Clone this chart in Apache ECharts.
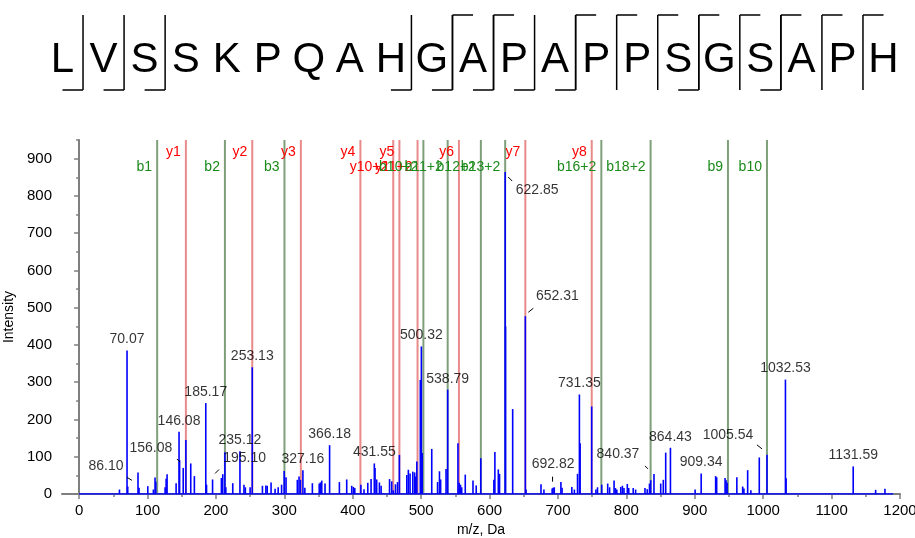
<!DOCTYPE html>
<html><head><meta charset="utf-8">
<script src="https://cdn.jsdelivr.net/npm/echarts@6/dist/echarts.min.js"></script>
<style>html,body{margin:0;padding:0;background:#fff}#c{width:915px;height:538px}</style>
</head><body><div id="c"></div>
<script>
// ---------- data ----------
const residues = ['L','V','S','S','K','P','Q','A','H','G','A','P','A','P','P','S','G','S','A','P','H'];
const bBreaks = [1,2,3,9,10,11,12,13,16,18];      // b-ion numbers shown in the sequence
const yBreaks = [1,2,3,4,5,6,7,8,10,11];          // y-ion numbers shown in the sequence

const ionNames = ['b1','y1','b2','y2','b3','y3','y4','y10+2','y5','y11+2','b10+2','b11+2','y6','b12+2','b13+2','y7','y8','b16+2','b18+2','b9','b10'];
const ionMz    = [114.09,156.08,213.16,253.13,300.19,324.17,411.20,459.23,468.22,494.75,503.27,538.79,555.25,587.32,622.84,652.31,749.36,763.41,835.43,948.52,1005.54];

const peakMz = [59.0,70.07,71.1,86.10,87.6,100.4,108.6,111.0,112.1,125.7,127.2,128.6,141.8,146.08,146.9,152.2,156.08,163.2,168.5,185.17,186.3,195.10,208.0,210.0,213.1,214.5,224.6,235.12,241.0,243.0,250.0,253.13,268.0,273.0,275.0,280.6,286.5,291.0,296.0,299.8,302.5,319.0,321.5,323.5,327.16,330.0,341.0,351.0,352.6,354.7,359.5,366.18,380.5,391.2,398.5,401.0,403.0,411.9,416.5,422.0,426.8,431.55,432.6,435.0,439.0,441.5,453.8,457.0,459.3,462.5,465.5,468.2,479.0,481.3,483.8,487.8,490.5,492.2,493.7,498.8,500.32,501.6,515.5,524.0,526.8,528.5,536.4,538.79,553.8,555.6,557.5,559.3,564.5,575.8,580.5,587.2,606.3,607.8,612.8,614.6,622.85,623.4,633.8,652.31,653.3,675.2,679.5,691.5,692.82,694.6,704.3,706.0,720.3,724.0,728.6,731.35,732.4,749.3,755.5,757.8,764.0,772.7,775.5,782.0,784.0,786.0,791.8,794.2,796.5,801.4,803.5,810.0,813.5,827.2,830.5,833.8,835.6,840.37,850.2,854.0,857.5,864.43,900.5,909.34,930.5,932.0,944.3,945.8,947.3,961.5,970.0,971.8,977.3,982.0,994.3,1005.54,1032.53,1033.5,1131.59,1164.4,1178.0];
const peakIntensity = [12,385,20,58,17,21,12,44,33,18,41,53,29,167,91,70,145,82,48,244,25,39,43,53,112,18,29,115,25,18,18,340,22,23,22,31,14,18,25,62,45,38,47,38,64,17,29,28,31,36,28,131,32,39,22,19,16,25,13,30,40,82,70,39,31,22,40,34,10,26,32,105,51,65,55,60,58,47,87,306,396,110,121,32,61,39,67,280,136,30,25,18,52,36,23,96,38,113,66,54,864,450,228,477,12,26,12,15,17,18,32,17,19,12,54,267,136,235,12,18,25,28,18,36,16,12,19,22,16,27,16,16,12,16,13,28,37,54,28,38,111,124,12,55,48,45,43,37,30,45,20,15,64,10,98,105,307,42,74,11,14];
const baselineMz = [0, 1190];
const baselineIntensity = [0, 0];

const labeledMz = [70.07,86.10,146.08,156.08,185.17,195.10,235.12,253.13,327.16,366.18,431.55,500.32,538.79,622.85,652.31,692.82,731.35,840.37,864.43,909.34,1005.54,1032.53,1131.59];

const xTicks = [0,100,200,300,400,500,600,700,800,900,1000,1100,1200];
const xMinorTicks = [50,150,250,350,450,550,650,750,850,950,1050,1150];
const yTicks = [0,100,200,300,400,500,600,700,800,900];
const yMinorTicks = [50,150,250,350,450,550,650,750,850,950];

// ---------- styles ----------
const FONT = 'Liberation Sans, Arial, Helvetica, sans-serif';
// label offsets (px) relative to the default "top" label position
const labelShift = {'86.10':[-32,5],'156.08':[-35,19],'195.10':[32,-10],'622.85':[32,29],'652.31':[32,-9],'692.82':[0,-13],'840.37':[-36,-9],'1005.54':[-39,-9]};
// short leader ticks (px offsets from the peak top: x1,y1,x2,y2)
const leaderShift = {'86.10':[-11,5,-6,8],'156.08':[-9,19,-6,22],'195.10':[2.5,-6,6.5,-10],'622.85':[3,5,7,9],'652.31':[3,-4,8,-8],'692.82':[-0.5,-11,-0.5,-6],'840.37':[-9,-8,-6,-5],'1005.54':[-10,-10,-5,-6]};
const AXIS_COLOR = '#7f7f7f';

const peakData = peakMz.map((m, i) => [m, peakIntensity[i]]);
const baseData = baselineMz.map((m, i) => [m, baselineIntensity[i]]);
const labelData = labeledMz.map(m => {
  const idx = peakMz.indexOf(m);
  const key = m.toFixed(2);
  const item = { value: [m, peakIntensity[idx]] };
  if (labelShift[key]) item.label = { offset: labelShift[key] };
  return item;
});
const leaderData = labeledMz.filter(m => leaderShift[m.toFixed(2)]).map(m => [m, peakIntensity[peakMz.indexOf(m)]]);
const ionData = ionMz.map((m, i) => [m, i]);
const seqData = residues.map((r, i) => [i, 0.5, r]);
const breakData = [];
bBreaks.forEach(n => breakData.push([n - 0.5, 'b']));
yBreaks.forEach(n => breakData.push([residues.length - n - 0.5, 'y']));

const chart = echarts.init(document.getElementById('c'), null, { renderer: 'canvas' });

const option = {
  backgroundColor: '#fff',
  animation: false,
  textStyle: { fontFamily: FONT },
  grid: [
    { left: 62, right: 15, top: 140, bottom: 44, containLabel: false, outerBoundsMode: 'none' },
    { left: 62.5, right: 31.5, top: 15, height: 75, containLabel: false, outerBoundsMode: 'none' }
  ],
  xAxis: [
    {
      type: 'value', gridIndex: 0, min: -25, max: 1200,
      name: 'm/z, Da', nameLocation: 'middle', nameGap: 26,
      nameTextStyle: { color: '#000', fontSize: 14, fontFamily: FONT },
      axisLine: { show: true, onZero: false, lineStyle: { color: AXIS_COLOR, width: 2 } },
      axisTick: { show: true, customValues: xTicks, length: 5, lineStyle: { color: AXIS_COLOR, width: 1.5 } },
      axisLabel: { customValues: xTicks, color: '#000', fontSize: 15, margin: 9, fontFamily: FONT,
                   formatter: v => String(v), hideOverlap: false },
      splitLine: { show: false }
    },
    {
      type: 'value', gridIndex: 0, min: -25, max: 1200, position: 'bottom',
      axisLine: { show: false },
      axisTick: { show: true, customValues: xMinorTicks, length: 3, lineStyle: { color: AXIS_COLOR, width: 1.5 } },
      axisLabel: { show: false }, splitLine: { show: false }
    },
    { type: 'value', gridIndex: 1, min: 0, max: 20, show: false }
  ],
  yAxis: [
    {
      type: 'value', gridIndex: 0, min: 0, max: 950,
      name: 'Intensity', nameLocation: 'middle', nameGap: 37, nameRotate: 90,
      nameTextStyle: { color: '#000', fontSize: 14, fontFamily: FONT },
      axisLine: { show: true, lineStyle: { color: AXIS_COLOR, width: 2 } },
      axisTick: { show: true, customValues: yTicks, length: 5, lineStyle: { color: AXIS_COLOR, width: 1.5 } },
      axisLabel: { customValues: yTicks, color: '#000', fontSize: 15, margin: 10, fontFamily: FONT,
                   formatter: v => String(v) },
      splitLine: { show: false }
    },
    {
      type: 'value', gridIndex: 0, min: 0, max: 950, position: 'left',
      axisLine: { show: false },
      axisTick: { show: true, customValues: yMinorTicks, length: 3, lineStyle: { color: AXIS_COLOR, width: 1.5 } },
      axisLabel: { show: false }, splitLine: { show: false }
    },
    { type: 'value', gridIndex: 1, min: 0, max: 1, show: false }
  ],
  series: [
    // fragment ion marker lines
    {
      type: 'custom', xAxisIndex: 0, yAxisIndex: 0, z: 2, silent: true,
      data: ionData,
      encode: { x: 0, y: -1 },
      renderItem: function (params, api) {
        const mz = api.value(0);
        const idx = api.value(1);
        const name = ionNames[idx];
        const isY = name[0] === 'y';
        const single = name.indexOf('+') < 0;
        const p0 = api.coord([mz, 0]);
        const p1 = api.coord([mz, 950]);
        const row2 = !(isY && single);
        return {
          type: 'group',
          children: [
            { type: 'line', shape: { x1: p0[0], y1: p0[1], x2: p1[0], y2: p1[1] },
              style: { stroke: isY ? '#e98a8a' : '#7f9f7a', lineWidth: 2 } },
            { type: 'text', x: p0[0] - 5, y: p1[1] + (row2 ? 27 : 12),
              style: { text: name, fill: isY ? '#ff0000' : '#1a8a1a', font: '14px ' + FONT,
                       align: 'right', verticalAlign: 'middle' } }
          ]
        };
      }
    },
    // baseline
    {
      type: 'line', xAxisIndex: 0, yAxisIndex: 0, z: 3, data: baseData, symbol: 'none',
      lineStyle: { color: '#0000ff', width: 1.5 }, silent: true
    },
    // peaks
    {
      type: 'custom', xAxisIndex: 0, yAxisIndex: 0, z: 4, silent: true,
      data: peakData,
      renderItem: function (params, api) {
        const a = api.coord([api.value(0), 0]);
        const b = api.coord([api.value(0), api.value(1)]);
        return { type: 'line', shape: { x1: a[0], y1: a[1], x2: b[0], y2: b[1] },
                 style: { stroke: '#0000ff', lineWidth: 1.6 } };
      }
    },
    // label leader ticks
    {
      type: 'custom', xAxisIndex: 0, yAxisIndex: 0, z: 5, silent: true,
      data: leaderData,
      renderItem: function (params, api) {
        const m = api.value(0);
        const p = api.coord([m, api.value(1)]);
        const d = leaderShift[m.toFixed(2)];
        return { type: 'line', shape: { x1: p[0] + d[0], y1: p[1] + d[1], x2: p[0] + d[2], y2: p[1] + d[3] },
                 style: { stroke: '#000', lineWidth: 1 } };
      }
    },
    // peak labels
    {
      type: 'scatter', xAxisIndex: 0, yAxisIndex: 0, z: 6, silent: true,
      symbolSize: 0, data: labelData,
      label: { show: true, position: 'top', distance: 4, color: '#000', fontSize: 14, fontFamily: FONT,
               formatter: p => p.value[0].toFixed(2) }
    },
    // peptide sequence letters
    {
      type: 'custom', xAxisIndex: 2, yAxisIndex: 2, silent: true,
      data: seqData,
      renderItem: function (params, api) {
        const p = api.coord([api.value(0), api.value(1)]);
        return { type: 'text', x: p[0], y: p[1] + 8,
                 style: { text: residues[params.dataIndex], fill: '#000', font: '42px ' + FONT,
                          align: 'center', verticalAlign: 'middle' } };
      }
    },
    // fragmentation brackets
    {
      type: 'custom', xAxisIndex: 2, yAxisIndex: 2, silent: true,
      data: breakData,
      renderItem: function (params, api) {
        const x = api.value(0);
        const kind = breakData[params.dataIndex][1];
        const top = api.coord([x, 1]);
        const bot = api.coord([x, 0]);
        const st = { stroke: '#000', lineWidth: 1.5 };
        const children = [{ type: 'line', shape: { x1: top[0], y1: top[1], x2: bot[0], y2: bot[1] }, style: st }];
        if (kind === 'b') {
          const l = api.coord([x - 0.5, 0]);
          children.push({ type: 'line', shape: { x1: l[0], y1: l[1], x2: bot[0], y2: bot[1] }, style: st });
        } else {
          const r = api.coord([x + 0.5, 1]);
          children.push({ type: 'line', shape: { x1: top[0], y1: top[1], x2: r[0], y2: r[1] }, style: st });
        }
        return { type: 'group', children };
      }
    }
  ]
};
chart.setOption(option);
</script>
</body></html>
